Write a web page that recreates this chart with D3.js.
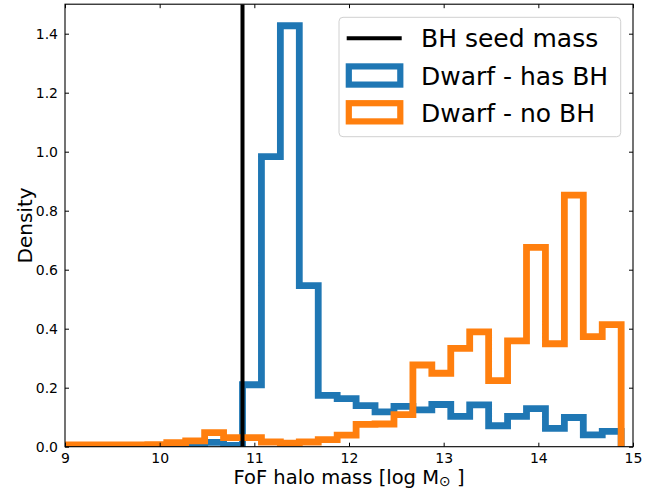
<!DOCTYPE html>
<html><head><meta charset="utf-8">
<script src="https://cdn.jsdelivr.net/npm/d3@7"></script>
<style>body{margin:0;background:#fff}svg{display:block}text{font-family:"DejaVu Sans",sans-serif;fill:#000}</style>
</head><body>
<svg id="c" width="665" height="489"></svg>
<script>
// Data
const binEdges = [8.875,9.075,9.275,9.475,9.675,9.875,10.075,10.275,10.475,10.675,10.875,11.075,11.275,11.475,11.675,11.875,12.075,12.275,12.475,12.675,12.875,13.075,13.275,13.475,13.675,13.875,14.075,14.275,14.475,14.675,14.875];
const hasBH = [0,0,0,0,0,0,0,0.003,0.015,0.004,0.21,0.983,1.427,0.546,0.174,0.163,0.139,0.118,0.137,0.125,0.143,0.103,0.142,0.071,0.103,0.129,0.062,0.099,0.040,0.052];
const noBH = [0.006,0.006,0.006,0.006,0.006,0.007,0.014,0.02,0.048,0.031,0.031,0.016,0.012,0.016,0.024,0.039,0.076,0.077,0.109,0.277,0.249,0.333,0.389,0.224,0.359,0.676,0.349,0.853,0.373,0.414];
const seedMass = 10.875;
const xTicks = [9,10,11,12,13,14,15];
const yTicks = [0,0.2,0.4,0.6,0.8,1.0,1.2,1.4];
const legendLabels = ["BH seed mass","Dwarf - has BH","Dwarf - no BH"];
const colors = {blue:"#1f77b4", orange:"#ff7f0e"};

const L=65, R=633, T=4.2, B=446.7;
const x = d3.scaleLinear().domain([9,15]).range([L,R]);
const y = d3.scaleLinear().domain([0,1.5]).range([B,T]);
const svg = d3.select("#c");

svg.append("defs").append("clipPath").attr("id","clip")
  .append("rect").attr("x",L).attr("y",T).attr("width",R-L).attr("height",B-T);

function stepPoints(vals){
  const pts=[[binEdges[0],0]];
  vals.forEach((v,i)=>{pts.push([binEdges[i],v]);pts.push([binEdges[i+1],v]);});
  pts.push([binEdges[binEdges.length-1],0]);
  return pts;
}
const line = d3.line().x(d=>x(d[0])).y(d=>y(d[1]));
const g = svg.append("g").attr("clip-path","url(#clip)");
g.append("path").attr("d",line(stepPoints(hasBH))).attr("fill","none")
  .attr("stroke",colors.blue).attr("stroke-width",6.8).attr("stroke-linejoin","miter");
g.append("path").attr("d",line(stepPoints(noBH))).attr("fill","none")
  .attr("stroke",colors.orange).attr("stroke-width",6.8).attr("stroke-linejoin","miter");
g.append("line").attr("x1",x(seedMass)).attr("x2",x(seedMass)).attr("y1",T).attr("y2",B)
  .attr("stroke","#000").attr("stroke-width",4);

// Axes (ticks inward, all sides)
const tl=4;
const axB = d3.axisBottom(x).tickValues(xTicks).tickSizeInner(-tl).tickSizeOuter(0).tickPadding(6).tickFormat(d3.format("d"));
const axT = d3.axisTop(x).tickValues(xTicks).tickSizeInner(-tl).tickSizeOuter(0).tickFormat("");
const axLf = d3.axisLeft(y).tickValues(yTicks).tickSizeInner(-tl).tickSizeOuter(0).tickPadding(7).tickFormat(d3.format(".1f"));
const axRt = d3.axisRight(y).tickValues(yTicks).tickSizeInner(-tl).tickSizeOuter(0).tickFormat("");
function styleAxis(sel){
  sel.select(".domain").remove();
  sel.selectAll(".tick line").attr("stroke","#000").attr("stroke-width",1);
  sel.selectAll(".tick text").style("font-family","DejaVu Sans").style("font-size","14px").attr("fill","#000");
}
svg.append("g").attr("transform",`translate(0,${B})`).call(axB).call(styleAxis);
svg.append("g").attr("transform",`translate(0,${T})`).call(axT).call(styleAxis);
svg.append("g").attr("transform",`translate(${L},0)`).call(axLf).call(styleAxis);
svg.append("g").attr("transform",`translate(${R},0)`).call(axRt).call(styleAxis);
svg.append("rect").attr("x",L).attr("y",T).attr("width",R-L).attr("height",B-T)
  .attr("fill","none").attr("stroke","#000").attr("stroke-width",1.1);

// Axis labels
const xl = svg.append("text").attr("x",(L+R)/2).attr("y",484).attr("text-anchor","middle").style("font-size","19.5px");
xl.append("tspan").text("FoF halo mass [log M");
xl.append("tspan").attr("dy",1.5).style("font-size","14px").text("\u2299");
xl.append("tspan").attr("dy",-1.5).text(" ]");
svg.append("text").attr("transform",`translate(32,${(T+B)/2}) rotate(-90)`).attr("text-anchor","middle")
  .style("font-size","20px").text("Density");

// Legend
const lg = svg.append("g");
lg.append("rect").attr("x",339).attr("y",17.3).attr("width",281.7).attr("height",119.4).attr("rx",4)
  .attr("fill","rgba(255,255,255,0.8)").attr("stroke","#d0d0d0").attr("stroke-width",1);
lg.append("line").attr("x1",346.7).attr("x2",401.7).attr("y1",38.3).attr("y2",38.3).attr("stroke","#000").attr("stroke-width",4);
lg.append("rect").attr("x",348.8).attr("y",66.4).attr("width",51.5).attr("height",18.2).attr("fill","none").attr("stroke",colors.blue).attr("stroke-width",6.2);
lg.append("rect").attr("x",348.8).attr("y",103.2).attr("width",51.5).attr("height",18.2).attr("fill","none").attr("stroke",colors.orange).attr("stroke-width",6.2);
const ty=[46.7,85,121.7];
legendLabels.forEach((t,i)=>{
  lg.append("text").attr("x",421).attr("y",ty[i]).style("font-size","25px").text(t);
});
</script>
</body></html>
